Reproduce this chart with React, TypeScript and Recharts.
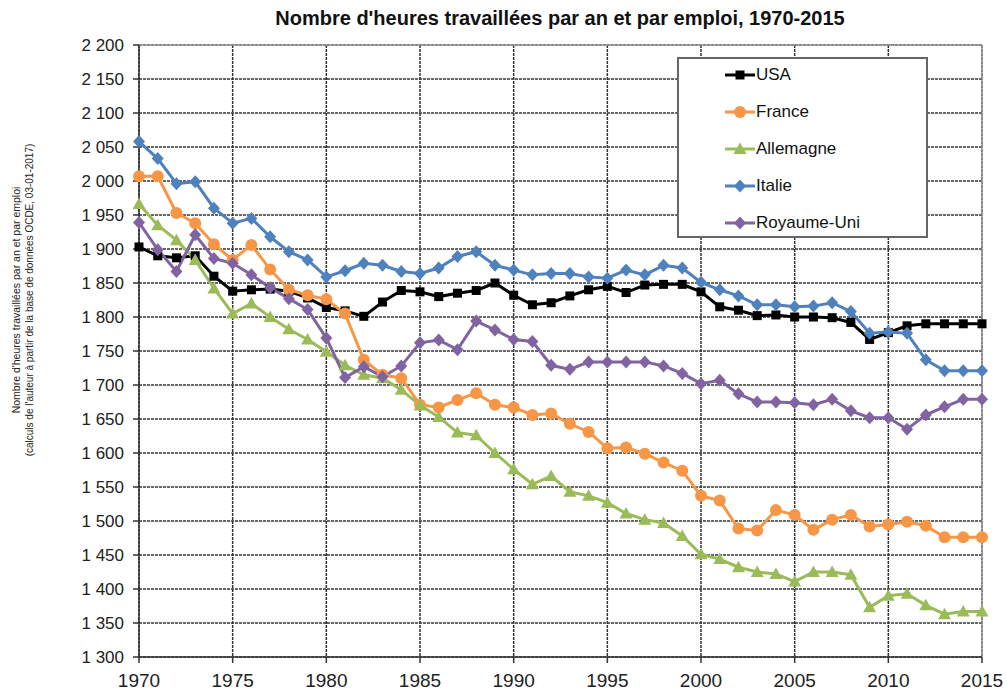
import { CartesianGrid, Line, LineChart, ReferenceLine, XAxis, YAxis } from 'recharts'

const years = [
  1970, 1971, 1972, 1973, 1974, 1975, 1976, 1977, 1978, 1979, 1980, 1981, 1982, 1983, 1984, 1985,
  1986, 1987, 1988, 1989, 1990, 1991, 1992, 1993, 1994, 1995, 1996, 1997, 1998, 1999, 2000, 2001,
  2002, 2003, 2004, 2005, 2006, 2007, 2008, 2009, 2010, 2011, 2012, 2013, 2014, 2015,
]

const usa = [
  1903, 1890, 1887, 1890, 1860, 1838, 1840, 1841, 1838, 1828, 1814,
  1809, 1801, 1822, 1839, 1837, 1830, 1835, 1839, 1850, 1832,
  1818, 1821, 1831, 1840, 1845, 1836, 1847, 1848, 1848, 1837,
  1815, 1810, 1802, 1803, 1800, 1800, 1799, 1792, 1767, 1777, 1787, 1790, 1790, 1790, 1790,
]

const france = [
  2007, 2007, 1953, 1938, 1907, 1884, 1906, 1870, 1840, 1832, 1826,
  1805, 1737, 1715, 1710, 1671, 1667, 1678, 1688, 1671, 1667,
  1656, 1658, 1643, 1631, 1607, 1608, 1599, 1586, 1574, 1537,
  1530, 1489, 1486, 1516, 1509, 1487, 1502, 1509, 1492, 1495, 1499, 1493, 1476, 1476, 1476,
]

const allemagne = [
  1966, 1935, 1913, 1884, 1842, 1805, 1820, 1800, 1782, 1767, 1749,
  1729, 1715, 1710, 1693, 1670, 1653, 1630, 1626, 1600, 1576,
  1554, 1566, 1543, 1537, 1527, 1511, 1502, 1497, 1478, 1451,
  1444, 1432, 1425, 1422, 1411, 1425, 1425, 1421, 1373, 1390, 1393, 1376, 1363, 1367, 1367,
]

const italie = [
  2058, 2033, 1996, 1999, 1960, 1938, 1945, 1918, 1896, 1884, 1859,
  1868, 1879, 1876, 1867, 1864, 1872, 1889, 1896, 1876, 1869,
  1862, 1864, 1864, 1859, 1857, 1869, 1862, 1876, 1872, 1851,
  1840, 1831, 1818, 1818, 1815, 1816, 1821, 1808, 1776, 1778, 1776, 1737, 1721, 1721, 1721,
]

const royaumeUni = [
  1939, 1899, 1867, 1921, 1886, 1879, 1862, 1843, 1827, 1811, 1769,
  1711, 1727, 1712, 1728, 1762, 1766, 1752, 1794, 1781, 1767,
  1764, 1729, 1723, 1734, 1734, 1734, 1734, 1728, 1717, 1702,
  1707, 1687, 1675, 1675, 1674, 1671, 1679, 1662, 1652, 1652, 1635, 1656, 1668, 1679, 1679,
]

const xTicks = [1970, 1975, 1980, 1985, 1990, 1995, 2000, 2005, 2010, 2015]
const yTicks = [
  1300, 1350, 1400, 1450, 1500, 1550, 1600, 1650, 1700, 1750, 1800, 1850, 1900, 1950, 2000, 2050,
  2100, 2150, 2200,
]

type Shape = 'square' | 'circle' | 'triangle' | 'diamond'

const series: { key: string; name: string; color: string; shape: Shape; values: number[] }[] = [
  { key: 'usa', name: 'USA', color: '#000000', shape: 'square', values: usa },
  { key: 'france', name: 'France', color: '#F79646', shape: 'circle', values: france },
  { key: 'allemagne', name: 'Allemagne', color: '#9BBB59', shape: 'triangle', values: allemagne },
  { key: 'italie', name: 'Italie', color: '#4F81BD', shape: 'diamond', values: italie },
  { key: 'royaumeUni', name: 'Royaume-Uni', color: '#8064A2', shape: 'diamond', values: royaumeUni },
]

const data = years.map((year, i) => {
  const row: Record<string, number> = { year }
  series.forEach((s) => {
    row[s.key] = s.values[i]
  })
  return row
})

const font = '"Liberation Sans", Arial, sans-serif'

function marker(shape: Shape, color: string, cx: number, cy: number, key?: string | number) {
  if (shape === 'square') {
    return <rect key={key} x={cx - 4.5} y={cy - 4.5} width={9} height={9} fill={color} />
  }
  if (shape === 'circle') {
    return <circle key={key} cx={cx} cy={cy} r={6} fill={color} />
  }
  if (shape === 'triangle') {
    return (
      <polygon
        key={key}
        points={`${cx},${cy - 6.5} ${cx + 6.5},${cy + 5} ${cx - 6.5},${cy + 5}`}
        fill={color}
      />
    )
  }
  return (
    <polygon
      key={key}
      points={`${cx},${cy - 6.5} ${cx + 6},${cy} ${cx},${cy + 6.5} ${cx - 6},${cy}`}
      fill={color}
    />
  )
}

function dotFor(shape: Shape, color: string) {
  return (props: any) => {
    const { cx, cy, index } = props
    if (cx == null || cy == null) return <g key={index} />
    return marker(shape, color, cx, cy, index)
  }
}

const fmt = (v: number) => {
  const s = String(v)
  return s.length > 3 ? `${s.slice(0, s.length - 3)} ${s.slice(-3)}` : s
}

function ChartLegend() {
  return (
    <div
      style={{
        position: 'absolute',
        left: 677,
        top: 57,
        width: 251,
        height: 181,
        boxSizing: 'border-box',
        border: '2px solid #666',
        background: '#fff',
        fontFamily: font,
        fontSize: 17,
        color: '#111',
      }}
    >
      {series.map((s, i) => (
        <div
          key={s.key}
          style={{
            position: 'absolute',
            left: 46,
            top: i * 37 + 16 - 10,
            height: 20,
            display: 'flex',
            alignItems: 'center',
          }}
        >
          <svg width={30} height={16} style={{ display: 'block' }}>
            <line x1={0} y1={8} x2={30} y2={8} stroke={s.color} strokeWidth={3} />
            {marker(s.shape, s.color, 15, 8)}
          </svg>
          <span style={{ marginLeft: 1, lineHeight: '20px' }}>{s.name}</span>
        </div>
      ))}
    </div>
  )
}

export default function App() {
  return (
    <div style={{ position: 'absolute', left: 0, top: 0, width: 1007, height: 691, background: '#fff' }}>
      <div
        style={{
          position: 'absolute',
          left: 0,
          top: 7,
          width: 1120,
          textAlign: 'center',
          fontFamily: font,
          fontWeight: 'bold',
          fontSize: 20,
          color: '#111',
        }}
      >
        Nombre d'heures travaillées par an et par emploi, 1970-2015
      </div>
      <svg
        width={60}
        height={691}
        style={{ position: 'absolute', left: 0, top: 0 }}
        fontFamily={font}
        fill="#222"
      >
        <text x={20} y={300} fontSize={10.5} textAnchor="middle" transform="rotate(-90 20 300)">
          Nombre d'heures travaillées par an et par emploi
        </text>
        <text x={33} y={300} fontSize={10} textAnchor="middle" transform="rotate(-90 33 300)">
          (calculs de l'auteur à partir de la base de données OCDE, 03-01-2017)
        </text>
      </svg>
      <div style={{ position: 'absolute', left: 0, top: 0 }}>
        <LineChart
          width={1007}
          height={691}
          data={data}
          margin={{ top: 45, right: 25, bottom: 4, left: 79 }}
        >
          <CartesianGrid stroke="#333" strokeDasharray="3 1" strokeWidth={1.5} />
          <ReferenceLine y={2200} stroke="#999" strokeWidth={1.5} />
          <ReferenceLine x={2015} stroke="#999" strokeWidth={1.5} />
          <XAxis
            dataKey="year"
            type="number"
            domain={[1970, 2015]}
            ticks={xTicks}
            interval={0}
            height={30}
            tickSize={6}
            tickMargin={11}
            stroke="#333"
            strokeWidth={1.5}
            tick={{ fontSize: 19, fill: '#222', fontFamily: font }}
          />
          <YAxis
            type="number"
            domain={[1300, 2200]}
            ticks={yTicks}
            interval={0}
            width={60}
            tickSize={6}
            tickMargin={9}
            tickFormatter={fmt}
            stroke="#333"
            strokeWidth={1.5}
            tick={{ fontSize: 17, fill: '#222', fontFamily: font }}
          />
          {series.map((s) => (
            <Line
              key={s.key}
              dataKey={s.key}
              name={s.name}
              stroke={s.color}
              strokeWidth={3}
              dot={dotFor(s.shape, s.color)}
              activeDot={false}
              isAnimationActive={false}
            />
          ))}
        </LineChart>
      </div>
      <ChartLegend />
    </div>
  )
}
